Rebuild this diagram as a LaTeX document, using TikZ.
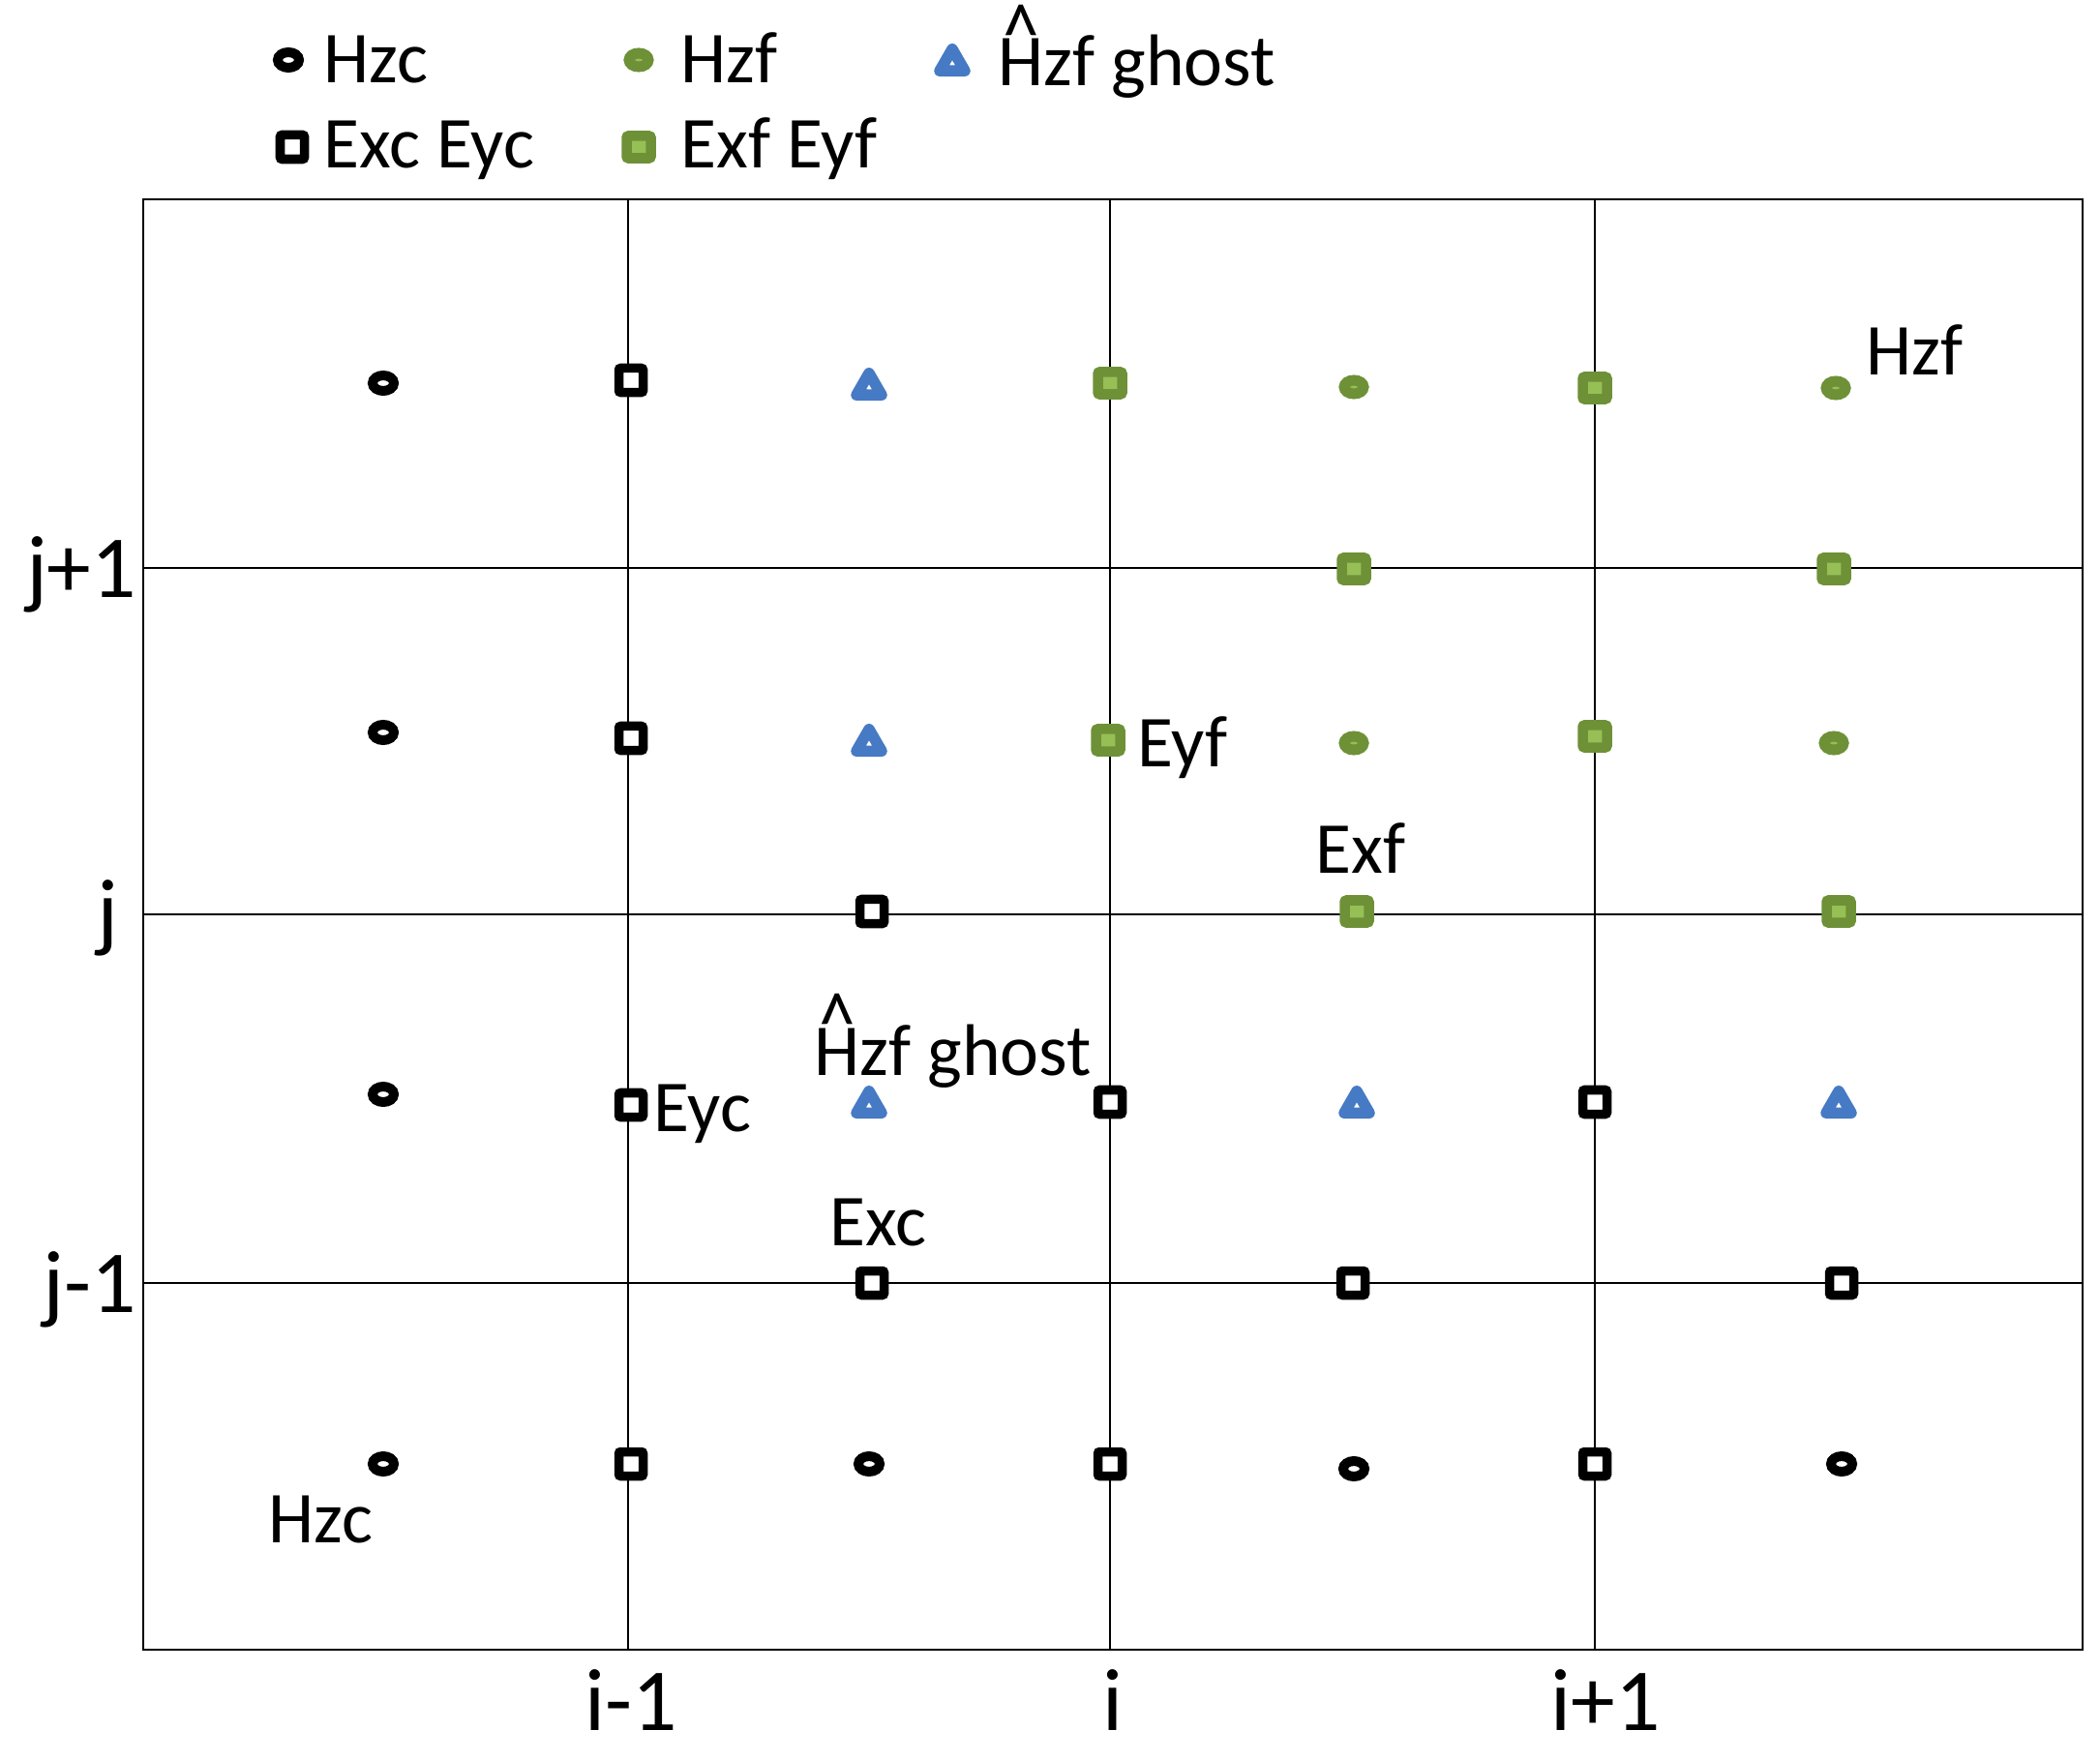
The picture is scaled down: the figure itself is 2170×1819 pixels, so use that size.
\documentclass[tikz,border=0pt]{standalone}
\usepackage{fontspec}
\setmainfont{Carlito}
\usetikzlibrary{shapes.geometric}
\definecolor{gdark}{RGB}{110,145,55}
\definecolor{glight}{RGB}{150,192,85}
\definecolor{gblue}{RGB}{70,122,196}
\newcommand\hatH{\leavevmode\hbox{\rlap{\hbox to 0.623em{\hss\raisebox{0.3em}{\scalebox{1.0}[1.2]{\textasciicircum}}\hss}}H}}
\begin{document}
\begin{tikzpicture}[x=0.01cm,y=-0.01cm,
  hzc/.style={ellipse, draw=black, fill=white, line width=1.0mm, minimum width=2.2mm, minimum height=1.6mm, inner sep=0pt},
  exy/.style={rectangle, draw=black, fill=white, line width=0.95mm, minimum size=2.5mm, rounded corners=0.2mm, inner sep=0pt},
  hzf/.style={ellipse, draw=gdark, fill=glight, line width=1.1mm, minimum width=2.0mm, minimum height=1.4mm, inner sep=0pt},
  efy/.style={rectangle, draw=gdark, fill=glight, line width=1.05mm, minimum width=2.5mm, minimum height=2.3mm, rounded corners=0.2mm, inner sep=0pt},
  ghost/.style={regular polygon, regular polygon sides=3, draw=gblue, fill=white, line width=1.15mm, minimum size=3.0mm, line join=round, inner sep=0pt, yshift=-0.375mm},
  lbl/.style={font=\fontsize{21.5}{26}\selectfont, inner sep=0pt, anchor=base west},
  axl/.style={font=\fontsize{26}{31}\selectfont, inner sep=0pt, anchor=base},
  gridl/.style={line width=0.2mm, black},
  frame/.style={line width=0.25mm, black}]
\useasboundingbox (0,0) rectangle (2170,1819);
% frame and grid
\draw[frame] (148,206) rectangle (2152,1705);
\draw[gridl] (649,206) -- (649,1705);
\draw[gridl] (1147,206) -- (1147,1705);
\draw[gridl] (1648,206) -- (1648,1705);
\draw[gridl] (148,587) -- (2152,587);
\draw[gridl] (148,945) -- (2152,945);
\draw[gridl] (148,1326) -- (2152,1326);
% axis labels
\node[axl] (lj1) at (84,617) {j+1};
\node[axl] (lj) at (111,972) {j};
\node[axl] (ljm) at (93,1356) {j-1};
\node[axl] (lim) at (652,1788) {i-1};
\node[axl] (li) at (1150,1788) {i};
\node[axl] (lip) at (1659,1788) {i+1};
% legend
\node[hzc] (L1) at (298,62) {};
\node[lbl] (L1t) at (334,86) {Hzc};
\node[hzf] (L2) at (660,62) {};
\node[lbl] (L2t) at (703,86) {Hzf};
\node[ghost] (L3) at (984,62) {};
\node[lbl] (L3t) at (1031,89) {\hatH zf ghost};
\node[exy] (L4) at (302,152) {};
\node[lbl] (L4t) at (334,174) {Exc Eyc};
\node[efy] (L5) at (660,152) {};
\node[lbl] (L5t) at (703,174) {Exf Eyf};
% row 1
\node[hzc] (a1) at (396,396) {};
\node[exy] (a2) at (652,393) {};
\node[ghost] (a3) at (898,397) {};
\node[efy] (a4) at (1147,396) {};
\node[hzf] (a5) at (1399,400) {};
\node[efy] (a6) at (1648,401) {};
\node[hzf] (a7) at (1897,401) {};
\node[lbl] (ta7) at (1928,388) {Hzf};
% row 2
\node[efy] (b1) at (1399,588) {};
\node[efy] (b2) at (1895,588) {};
% row 3
\node[hzc] (c1) at (396,757) {};
\node[exy] (c2) at (652,763) {};
\node[ghost] (c3) at (898,765) {};
\node[efy] (c4) at (1145,765) {};
\node[lbl] (tc4) at (1175,792) {Eyf};
\node[hzf] (c5) at (1399,768) {};
\node[efy] (c6) at (1648,761) {};
\node[hzf] (c7) at (1895,768) {};
% row 4
\node[exy] (d1) at (901,942) {};
\node[lbl] (td2) at (1359,902) {Exf};
\node[efy] (d2) at (1402,942) {};
\node[efy] (d3) at (1900,942) {};
% row 5
\node[hzc] (e1) at (396,1131) {};
\node[exy] (e2) at (652,1142) {};
\node[lbl] (te2) at (675,1169) {Eyc};
\node[ghost] (e3) at (898,1139) {};
\node[lbl] (te3) at (841,1111) {\hatH zf ghost};
\node[exy] (e4) at (1147,1139) {};
\node[ghost] (e5) at (1402,1139) {};
\node[exy] (e6) at (1648,1139) {};
\node[ghost] (e7) at (1900,1139) {};
% row 6
\node[exy] (f1) at (901,1326) {};
\node[lbl] (tf1) at (857,1287) {Exc};
\node[exy] (f2) at (1398,1326) {};
\node[exy] (f3) at (1903,1326) {};
% row 7
\node[hzc] (g1) at (396,1513) {};
\node[lbl] (tg1) at (277,1594) {Hzc};
\node[exy] (g2) at (652,1513) {};
\node[hzc] (g3) at (898,1513) {};
\node[exy] (g4) at (1147,1513) {};
\node[hzc] (g5) at (1399,1518) {};
\node[exy] (g6) at (1648,1513) {};
\node[hzc] (g7) at (1903,1513) {};
\end{tikzpicture}
\end{document}
